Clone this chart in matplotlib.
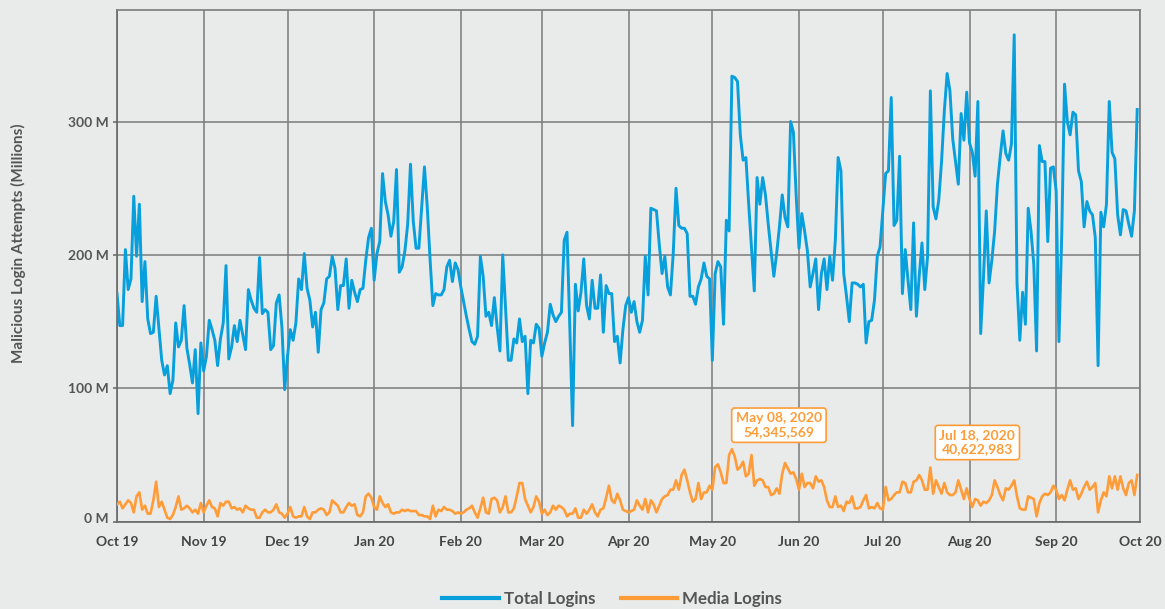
import matplotlib
matplotlib.use("Agg")
import matplotlib.pyplot as plt
import matplotlib.dates as mdates
import matplotlib.transforms as mtransforms
import pandas as pd
import numpy as np

start_date = "2019-10-01"
n_days = 366

# Total logins (millions), daily from Oct 1 2019
total_logins = [
    171,147,147,204,174,182,244,199,238,165,195,152,141,142,169,145,121,110,117,96,106,149,131,136,162,130,118,104,129,81,134,113,124,151,144,136,117,137,149,192,122,131,147,135,151,140,129,174,
    166,160,157,198,156,159,157,129,132,164,170,146,99,124,144,136,149,182,174,201,175,166,146,157,127,159,164,182,184,199,190,159,177,177,197,160,181,172,165,174,175,196,213,220,181,201,210,261,
    240,230,214,225,264,187,191,203,223,268,225,205,205,236,266,236,197,162,171,170,170,174,191,196,180,194,189,176,165,154,144,135,133,139,199,184,154,157,147,168,146,128,200,161,121,121,137,134,152,
    135,139,96,136,134,148,145,124,134,142,163,155,150,154,157,211,217,146,72,178,158,172,197,162,152,181,160,160,185,142,177,171,171,135,139,119,144,162,168,157,165,150,142,151,199,170,235,234,
    233,208,186,199,176,170,201,250,222,220,220,216,169,169,163,176,182,194,184,182,121,186,195,191,148,226,218,334,333,330,290,271,273,238,205,173,258,238,258,245,223,203,184,201,221,245,228,221,
    300,292,244,205,231,218,203,176,186,197,159,186,197,174,199,181,211,273,263,186,169,150,179,179,178,176,178,134,150,151,166,199,206,233,261,263,318,222,226,274,171,204,181,159,224,154,184,209,174,
    199,323,236,227,241,270,308,336,323,287,270,253,306,286,322,284,277,259,315,141,183,233,179,196,218,253,274,293,276,271,283,365,179,136,172,148,235,218,193,128,282,270,270,210,265,266,248,135,
    215,328,300,290,307,305,263,255,221,240,233,230,213,117,232,221,238,315,277,272,230,215,234,233,223,214,233,309,
]

# Media logins (millions), daily from Oct 1 2019
media_logins = [
    13,15,10,13,16,14,7,19,22,9,12,6,6,16,30,11,15,9,3,2,5,11,19,9,10,12,10,7,9,6,14,7,12,16,11,10,4,14,12,15,15,10,11,9,10,7,12,10,
    9,9,3,3,7,9,7,7,9,13,7,6,3,6,11,4,3,4,4,11,4,2,7,7,9,10,9,5,7,16,14,12,7,7,11,14,12,13,5,4,7,19,21,18,11,9,19,14,
    11,13,7,6,7,7,9,8,9,8,8,8,5,5,4,4,2,12,4,9,8,11,9,9,8,6,7,6,7,9,10,12,7,3,10,18,7,6,17,18,16,7,11,19,7,7,10,19,29,
    29,17,12,7,11,19,15,6,9,5,7,12,9,12,11,9,4,6,6,10,3,3,9,6,9,13,7,4,9,10,18,27,16,14,21,16,9,8,7,8,9,16,12,9,17,7,16,13,
    7,12,17,19,20,24,24,31,24,35,39,31,22,15,17,29,17,22,22,27,24,41,43,37,29,29,50,54.345569,49,39,41,45,34,36,50,27,31,32,31,26,26,20,21,25,21,36,44,40,
    36,37,32,24,36,26,29,29,25,34,30,31,26,16,11,11,19,11,12,8,15,14,19,10,10,11,16,20,10,11,10,14,10,9,26,16,17,20,22,22,30,29,22,22,30,31,35,31,24,
    24,40.622983,21,31,26,21,29,22,20,20,22,31,24,17,25,17,11,17,16,12,15,14,16,20,31,26,20,16,25,24,27,31,19,10,9,9,19,18,17,4,14,19,21,20,22,27,24,17,
    20,16,24,31,24,25,17,21,26,30,24,26,29,7,16,22,19,34,25,34,24,34,25,20,29,31,20,35,
]

series_names = ["Total Logins", "Media Logins"]
y_ticks_m = [0, 100, 200, 300]
y_tick_labels = ["0 M", "100 M", "200 M", "300 M"]
annotations = [("2020-05-08", 54.345569, "May 08, 2020\n54,345,569"),
               ("2020-07-18", 40.622983, "Jul 18, 2020\n40,622,983")]

dates = pd.date_range(start_date, periods=n_days, freq="D")
total = np.array(total_logins) * 1e6
media = np.array(media_logins) * 1e6

BG = "#e9eaea"
BLUE = "#079fdc"
ORANGE = "#ff9c38"
GRID = "#7b7b7b"
TXT = "#555555"
FONT = ["Lato", "DejaVu Sans"]
plt.rcParams["font.family"] = FONT

fig = plt.figure(figsize=(11.65, 6.09), dpi=100, facecolor=BG)
ax = fig.add_axes([117/1165, 1 - 521.7/609, (1140-117)/1165, (521.7-10)/609])
ax.set_facecolor(BG)

ax.plot(dates, total, color=BLUE, lw=2.1, zorder=3, label=series_names[0])
ax.plot(dates, media, color=ORANGE, lw=1.9, zorder=4, label=series_names[1])

ax.set_xlim(pd.Timestamp("2019-10-01"), pd.Timestamp("2020-10-01"))
ax.set_ylim(0, 383.6e6)

ax.xaxis.set_major_locator(mdates.MonthLocator())
ax.xaxis.set_major_formatter(mdates.DateFormatter("%b %y"))
ax.set_yticks([v * 1e6 for v in y_ticks_m])
ax.set_yticklabels(y_tick_labels)

ax.grid(True, color=GRID, lw=1.1, zorder=1)
for s in ax.spines.values():
    s.set_color(GRID)
    s.set_linewidth(1.2)
ax.spines["left"].set_color("#666666")
ax.spines["bottom"].set_color("#666666")

ax.tick_params(axis="x", length=0, pad=10, labelsize=10, labelcolor="#444444")
ax.tick_params(axis="y", length=3, width=1.1, color="#666666", pad=3, labelsize=10, labelcolor=TXT)
for lab in ax.get_xticklabels() + ax.get_yticklabels():
    lab.set_fontweight("bold")
# "0 M" sits slightly above its tick in the reference
zero_lab = ax.get_yticklabels()[0]
zero_lab.set_transform(zero_lab.get_transform() + mtransforms.ScaledTranslation(0, 4/100, fig.dpi_scale_trans))

fig.text(18.5/1165, 1 - 243/609, "Malicious Login Attempts (Millions)", rotation=90,
         ha="center", va="center", fontsize=11, fontweight="bold", color=TXT)

# annotation boxes
box_offsets = [(47, 24), (47, 25)]
for (d, v, txt), (dx, dy) in zip(annotations, box_offsets):
    ax.annotate(txt, xy=(pd.Timestamp(d), v * 1e6), xytext=(dx, dy), textcoords="offset pixels",
                ha="center", va="center", multialignment="center",
                fontsize=10, fontweight="bold", color=ORANGE, zorder=6,
                bbox=dict(boxstyle="round,pad=0.3,rounding_size=0.2", fc="white", ec=ORANGE, lw=1.2))

leg = fig.legend(loc="center", bbox_to_anchor=(612/1165, 1 - 599/609), ncol=2, frameon=False,
                 handlelength=3.35, handletextpad=0.3, columnspacing=1.5,
                 prop=dict(family=FONT, weight="bold", size=12.2))
for t in leg.get_texts():
    t.set_color(TXT)
for h in leg.legend_handles:
    h.set_linewidth(3)

fig.savefig("out.png", dpi=100, facecolor=BG)
